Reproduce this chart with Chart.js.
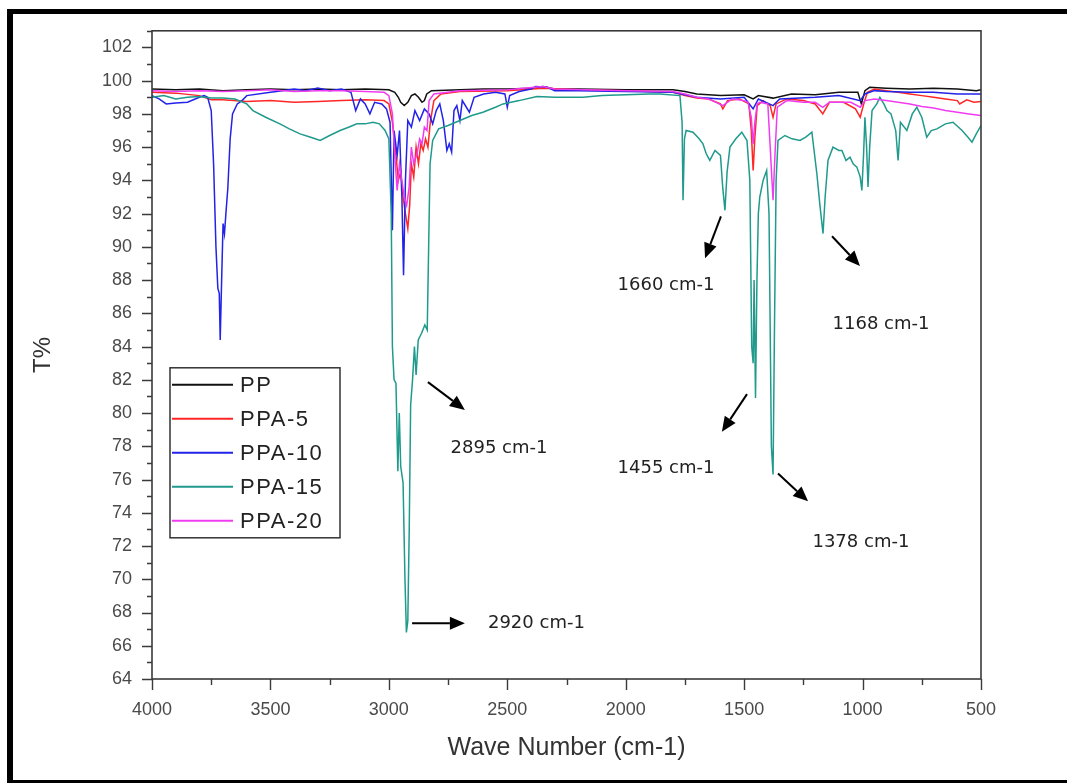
<!DOCTYPE html>
<html>
<head>
<meta charset="utf-8">
<title>FTIR spectra</title>
<script src="https://cdn.jsdelivr.net/npm/chart.js@4.4.0/dist/chart.umd.min.js"></script>
<style>
  html, body { margin: 0; padding: 0; background: #fff; }
  canvas { display: block; }
</style>
</head>
<body>
<canvas id="ftir" width="1067" height="783"></canvas>
<script>
const seriesNames = ['PP', 'PPA-5', 'PPA-10', 'PPA-15', 'PPA-20']
const seriesColors = ['#111111', '#ff2626', '#2222e8', '#1f9a8c', '#f03cf0']

// wave number (cm-1) / transmittance (%)
const ppWave = [4000, 3900, 3800, 3700, 3600, 3500, 3400, 3300, 3200, 3100, 3000, 2975, 2960, 2950, 2935, 2920, 2905, 2890, 2875, 2860, 2850, 2840, 2820, 2700, 2600, 2500, 2400, 2350, 2300, 2200, 2000, 1800, 1750, 1700, 1600, 1500, 1462, 1440, 1378, 1300, 1200, 1100, 1020, 1005, 990, 970, 900, 800, 700, 600, 520, 500]
const ppT = [99.5, 99.45, 99.5, 99.4, 99.45, 99.5, 99.45, 99.5, 99.45, 99.5, 99.45, 99.3, 99.0, 98.7, 98.5, 98.7, 99.1, 99.2, 99.0, 98.7, 98.8, 99.2, 99.4, 99.45, 99.5, 99.5, 99.55, 99.65, 99.5, 99.5, 99.45, 99.45, 99.35, 99.2, 99.1, 99.15, 98.9, 99.1, 98.95, 99.2, 99.15, 99.3, 99.3, 98.6, 99.4, 99.6, 99.55, 99.5, 99.55, 99.5, 99.4, 99.45]

const ppa5Wave = [4000, 3900, 3800, 3750, 3700, 3600, 3500, 3400, 3300, 3200, 3100, 3020, 3000, 2985, 2970, 2960, 2950, 2940, 2930, 2920, 2912, 2905, 2895, 2885, 2875, 2865, 2855, 2845, 2835, 2825, 2810, 2780, 2700, 2500, 2350, 2200, 2000, 1800, 1750, 1700, 1650, 1600, 1590, 1570, 1520, 1480, 1470, 1462, 1455, 1445, 1420, 1390, 1378, 1365, 1320, 1250, 1200, 1168, 1140, 1080, 1030, 1010, 995, 980, 950, 900, 850, 800, 750, 700, 650, 600, 590, 560, 530, 500]
const ppa5T = [99.3, 99.25, 99.1, 98.85, 98.85, 98.75, 98.8, 98.7, 98.75, 98.8, 98.85, 98.8, 98.6, 97.5, 95.5, 94.0, 94.5, 93.0, 92.0, 91.1, 92.5, 95.0, 94.2, 96.0, 95.0, 96.2, 95.8, 96.5, 96.0, 97.5, 98.8, 99.2, 99.35, 99.4, 99.55, 99.45, 99.4, 99.3, 99.1, 98.95, 98.9, 98.6, 98.3, 98.8, 98.9, 98.6, 97.0, 94.6, 96.5, 98.5, 98.8, 98.5, 97.8, 98.6, 98.9, 98.8, 98.6, 98.0, 98.7, 98.7, 98.3, 97.8, 98.6, 99.3, 99.5, 99.4, 99.3, 99.2, 99.1, 99.0, 98.9, 98.8, 98.6, 98.85, 98.7, 98.75]

const ppa10Wave = [4000, 3970, 3940, 3900, 3850, 3800, 3780, 3765, 3750, 3740, 3730, 3722, 3716, 3712, 3706, 3700, 3694, 3688, 3680, 3670, 3660, 3640, 3620, 3600, 3500, 3450, 3400, 3350, 3300, 3250, 3200, 3160, 3140, 3120, 3100, 3080, 3060, 3030, 3010, 2995, 2985, 2978, 2965, 2955, 2945, 2938, 2930, 2920, 2905, 2890, 2870, 2850, 2830, 2815, 2800, 2785, 2770, 2755, 2745, 2735, 2725, 2713, 2700, 2690, 2660, 2640, 2600, 2550, 2510, 2500, 2490, 2450, 2400, 2380, 2330, 2300, 2200, 2000, 1800, 1750, 1700, 1600, 1500, 1462, 1440, 1378, 1350, 1200, 1100, 1010, 990, 950, 900, 800, 700, 600, 500]
const ppa10T = [99.1, 98.9, 98.6, 98.65, 98.7, 99.0, 99.1, 99.0, 98.2, 95.0, 90.0, 87.5, 87.2, 84.4, 88.0, 91.4, 90.8, 92.0, 93.5, 96.5, 98.0, 98.6, 98.8, 99.1, 99.3, 99.4, 99.5, 99.4, 99.55, 99.4, 99.5, 99.3, 98.2, 98.9, 98.6, 98.0, 98.7, 98.6, 98.3, 97.5, 91.0, 97.0, 95.5, 97.0, 93.0, 88.3, 94.0, 97.6, 97.2, 98.2, 97.6, 98.3, 98.0, 97.4, 98.2, 98.6, 97.6, 95.8, 96.2, 95.7, 98.2, 98.5, 97.6, 98.8, 98.1, 99.0, 99.2, 99.3, 99.2, 98.4, 99.1, 99.35, 99.5, 99.65, 99.6, 99.4, 99.4, 99.35, 99.3, 99.15, 99.0, 98.9, 99.0, 98.3, 98.9, 98.5, 98.9, 99.0, 99.1, 98.8, 99.2, 99.4, 99.35, 99.3, 99.3, 99.2, 99.2]

const ppa15Wave = [4000, 3950, 3900, 3850, 3800, 3750, 3700, 3650, 3600, 3574, 3520, 3460, 3420, 3375, 3330, 3290, 3250, 3206, 3170, 3135, 3100, 3067, 3040, 3016, 3000, 2990, 2985, 2978, 2970, 2962, 2956, 2950, 2940, 2932, 2926, 2920, 2914, 2908, 2900, 2892, 2885, 2876, 2862, 2848, 2838, 2832, 2826, 2815, 2790, 2750, 2700, 2650, 2603, 2550, 2518, 2450, 2375, 2300, 2180, 2100, 2000, 1900, 1855, 1771, 1762, 1758, 1752, 1745, 1716, 1690, 1674, 1660, 1645, 1623, 1600, 1590, 1581, 1572, 1560, 1535, 1510, 1488, 1476, 1468, 1462, 1458, 1452, 1446, 1440, 1434, 1420, 1405, 1395, 1385, 1378, 1372, 1365, 1357, 1328, 1298, 1264, 1240, 1214, 1193, 1180, 1167, 1158, 1146, 1125, 1100, 1087, 1070, 1053, 1040, 1024, 1010, 1003, 996, 990, 983, 977, 970, 960, 940, 927, 910, 897, 880, 860, 850, 840, 813, 790, 771, 750, 729, 710, 686, 650, 618, 580, 555, 538, 520, 500]
const ppa15T = [99.0, 99.1, 98.9, 99.0, 99.05, 98.95, 98.95, 98.9, 98.6, 98.2, 97.8, 97.4, 97.1, 96.8, 96.6, 96.4, 96.7, 97.0, 97.2, 97.4, 97.4, 97.5, 97.4, 97.0, 96.5, 92.0, 84.0, 82.0, 81.8, 76.5, 80.0, 76.8, 75.8, 70.0, 66.8, 67.5, 73.0, 80.5, 82.0, 84.0, 82.3, 84.4, 84.8, 85.3, 85.0, 90.0, 95.0, 96.4, 97.1, 97.3, 97.6, 97.9, 98.1, 98.4, 98.6, 98.8, 99.05, 99.0, 99.0, 99.1, 99.15, 99.2, 99.2, 99.1, 97.5, 92.8, 96.5, 97.0, 96.9, 96.5, 96.2, 95.6, 95.2, 95.8, 95.5, 93.5, 92.2, 94.5, 96.0, 96.5, 96.9, 96.4, 94.0, 84.0, 83.0, 88.0, 80.9, 88.0, 92.0, 93.0, 94.0, 94.6, 92.0, 78.0, 76.3, 85.0, 94.0, 96.4, 96.7, 96.5, 96.4, 96.6, 96.9, 94.4, 92.5, 90.8, 93.0, 95.2, 96.0, 95.8, 95.8, 95.2, 95.4, 95.0, 94.8, 94.2, 93.4, 95.5, 97.8, 96.0, 93.6, 96.0, 98.2, 98.6, 99.0, 98.6, 98.2, 98.0, 97.0, 95.2, 97.5, 97.0, 98.0, 98.4, 97.8, 96.6, 97.0, 97.1, 97.4, 97.5, 97.0, 96.6, 96.3, 96.8, 97.3]

const ppa20Wave = [4000, 3900, 3800, 3700, 3600, 3500, 3400, 3300, 3200, 3100, 3020, 3000, 2985, 2975, 2965, 2955, 2945, 2935, 2925, 2915, 2905, 2895, 2881, 2870, 2860, 2850, 2839, 2830, 2810, 2700, 2500, 2350, 2300, 2000, 1800, 1750, 1700, 1650, 1590, 1550, 1500, 1484, 1470, 1462, 1455, 1445, 1434, 1400, 1390, 1378, 1370, 1360, 1320, 1250, 1200, 1168, 1140, 1050, 1010, 990, 950, 900, 850, 800, 750, 700, 650, 600, 550, 500]
const ppa20T = [99.4, 99.35, 99.4, 99.35, 99.4, 99.45, 99.35, 99.4, 99.4, 99.35, 99.3, 99.1, 98.0, 95.5, 93.4, 95.0, 94.0, 93.0, 92.5, 93.5, 96.0, 95.0, 95.6, 96.5, 96.2, 97.2, 97.0, 98.8, 99.2, 99.4, 99.45, 99.65, 99.5, 99.4, 99.35, 99.2, 99.0, 98.9, 98.5, 98.9, 98.8, 98.7, 97.8, 96.2, 97.5, 98.6, 98.7, 98.6, 96.0, 92.8, 95.5, 98.4, 98.8, 98.7, 98.7, 98.4, 98.7, 98.7, 98.4, 98.8, 98.9, 98.8, 98.7, 98.6, 98.45, 98.35, 98.2, 98.1, 98.0, 97.9]

// axis ranges and tick steps
const waveRange = [500, 4000]
const tRange = [64, 103]
const waveStep = 500
const tStep = 2

// peak labels: text anchor and arrow start/end, in wave number and T%
const noteText = ['2895 cm-1', '2920 cm-1', '1660 cm-1', '1168 cm-1', '1455 cm-1', '1378 cm-1']
const noteWave = [2535, 2377, 1830, 922, 1830, 1007]
const noteT = [77.86, 67.35, 87.71, 85.32, 76.66, 72.24]
const arrowFromWave = [2835, 2902, 1598, 1129, 1488, 1357]
const arrowFromT = [81.86, 67.35, 91.83, 90.64, 81.14, 76.36]
const arrowToWave = [2679, 2679, 1665, 1011, 1594, 1230]
const arrowToT = [80.19, 67.35, 89.32, 88.85, 78.87, 74.69]

const allWaves = [ppWave, ppa5Wave, ppa10Wave, ppa15Wave, ppa20Wave]
const allT = [ppT, ppa5T, ppa10T, ppa15T, ppa20T]

function toPoints(waves, values) {
    return waves.map((w, i) => ({ x: w, y: values[i] }))
}

const datasets = seriesNames.map((name, i) => ({
    label: name,
    data: toPoints(allWaves[i], allT[i]),
    borderColor: seriesColors[i],
    borderWidth: 1.5,
    pointRadius: 0,
    tension: 0,
    fill: false,
    order: seriesNames.length - i   // later series painted on top
}))

//black frame round the whole figure
const framePlugin = {
    id: 'frame',
    beforeDraw(chart) {
        const ctx = chart.ctx
        ctx.save()
        ctx.fillStyle = '#000'
        ctx.fillRect(7, 9, 6, 774)
        ctx.fillRect(7, 9, chart.width, 5)
        ctx.fillRect(7, 780, chart.width, 3)
        ctx.restore()
    }
}

//plot box plus major/minor tick marks, pointing outwards
const boxPlugin = {
    id: 'box',
    afterDatasetsDraw(chart) {
        const ctx = chart.ctx
        const a = chart.chartArea
        const xs = chart.scales.x
        const ys = chart.scales.y
        ctx.save()
        ctx.strokeStyle = '#3a3a3a'
        ctx.lineWidth = 1.6
        ctx.strokeRect(a.left, a.top, a.right - a.left, a.bottom - a.top)
        ctx.lineWidth = 1.4
        ctx.beginPath()
        for (let v = waveRange[0]; v <= waveRange[1]; v += waveStep / 2) {
            const px = Math.round(xs.getPixelForValue(v)) + 0.5
            const len = v % waveStep === 0 ? 11 : 6
            ctx.moveTo(px, a.bottom)
            ctx.lineTo(px, a.bottom + len)
        }
        for (let v = tRange[0]; v <= tRange[1]; v += 1) {
            const py = Math.round(ys.getPixelForValue(v)) + 0.5
            const len = v % tStep === 0 ? 10 : 5
            ctx.moveTo(a.left, py)
            ctx.lineTo(a.left - len, py)
        }
        ctx.stroke()
        ctx.restore()
    }
}

//legend box sitting inside the plot, built from the datasets
const legendPlugin = {
    id: 'boxLegend',
    afterDraw(chart) {
        const ctx = chart.ctx
        const a = chart.chartArea
        const left = a.left + 18
        const top = a.top + 337
        const rowH = 34
        ctx.save()
        ctx.fillStyle = '#fff'
        ctx.fillRect(left, top, 170, 170)
        ctx.strokeStyle = '#333'
        ctx.lineWidth = 1.5
        ctx.strokeRect(left, top, 170, 170)
        ctx.font = '22px "Liberation Sans", Arial, sans-serif'
        ctx.letterSpacing = '1.5px'
        ctx.textBaseline = 'middle'
        chart.data.datasets.forEach((ds, i) => {
            const y = top + 17 + i * rowH
            ctx.strokeStyle = ds.borderColor
            ctx.lineWidth = 2
            ctx.beginPath()
            ctx.moveTo(left + 2, y)
            ctx.lineTo(left + 63, y)
            ctx.stroke()
            ctx.fillStyle = '#222'
            ctx.fillText(ds.label, left + 70, y + 1)
        })
        ctx.restore()
    }
}

function drawArrow(ctx, x1, y1, x2, y2) {
    const ang = Math.atan2(y2 - y1, x2 - x1)
    const head = 15
    const half = 6.5
    const bx = x2 - head * Math.cos(ang)
    const by = y2 - head * Math.sin(ang)
    ctx.beginPath()
    ctx.moveTo(x1, y1)
    ctx.lineTo(bx, by)
    ctx.stroke()
    ctx.beginPath()
    ctx.moveTo(x2, y2)
    ctx.lineTo(bx + half * Math.sin(ang), by - half * Math.cos(ang))
    ctx.lineTo(bx - half * Math.sin(ang), by + half * Math.cos(ang))
    ctx.closePath()
    ctx.fill()
}

//peak labels with arrows, placed through the scales
const notesPlugin = {
    id: 'notes',
    afterDraw(chart) {
        const ctx = chart.ctx
        const xs = chart.scales.x
        const ys = chart.scales.y
        ctx.save()
        ctx.strokeStyle = '#000'
        ctx.fillStyle = '#000'
        ctx.lineWidth = 2
        noteText.forEach((txt, i) => {
            drawArrow(ctx,
                xs.getPixelForValue(arrowFromWave[i]), ys.getPixelForValue(arrowFromT[i]),
                xs.getPixelForValue(arrowToWave[i]), ys.getPixelForValue(arrowToT[i]))
        })
        ctx.font = '18px "DejaVu Sans", sans-serif'
        ctx.fillStyle = '#222'
        ctx.textAlign = 'center'
        ctx.textBaseline = 'middle'
        noteText.forEach((txt, i) => {
            ctx.fillText(txt, xs.getPixelForValue(noteWave[i]), ys.getPixelForValue(noteT[i]))
        })
        ctx.restore()
    }
}

const tickFont = { family: '"Liberation Sans", Arial, sans-serif', size: 18 }

new Chart(document.getElementById('ftir'), {
    type: 'line',
    data: { datasets },
    options: {
        responsive: false,
        animation: false,
        devicePixelRatio: 1,
        layout: { padding: { left: 0, top: 26, right: 86, bottom: 0 } },
        plugins: {
            legend: { display: false },
            tooltip: { enabled: false }
        },
        scales: {
            x: {
                type: 'linear',
                reverse: true,
                min: waveRange[0],
                max: waveRange[1],
                afterFit(scale) { scale.height = 104 },
                grid: { display: false, drawTicks: false },
                border: { display: false },
                ticks: {
                    stepSize: waveStep,
                    autoSkip: false,
                    maxRotation: 0,
                    padding: 20,
                    color: '#4a4a4a',
                    font: tickFont,
                    callback: v => String(v)
                },
                title: {
                    display: true,
                    text: 'Wave Number (cm-1)',
                    color: '#333',
                    font: { family: '"Liberation Sans", Arial, sans-serif', size: 25 },
                    padding: { top: 0, bottom: 20 }
                }
            },
            y: {
                type: 'linear',
                min: tRange[0],
                max: tRange[1],
                afterFit(scale) { scale.width = 152 },
                grid: { display: false, drawTicks: false },
                border: { display: false },
                ticks: {
                    stepSize: tStep,
                    includeBounds: false,
                    autoSkip: false,
                    padding: 20,
                    color: '#4a4a4a',
                    font: tickFont,
                    callback: v => String(v)
                },
                title: {
                    display: true,
                    text: 'T%',
                    color: '#333',
                    font: { family: '"Liberation Sans", Arial, sans-serif', size: 24 },
                    padding: { top: 29, bottom: 0 }
                }
            }
        }
    },
    plugins: [framePlugin, boxPlugin, legendPlugin, notesPlugin]
})
</script>
</body>
</html>
